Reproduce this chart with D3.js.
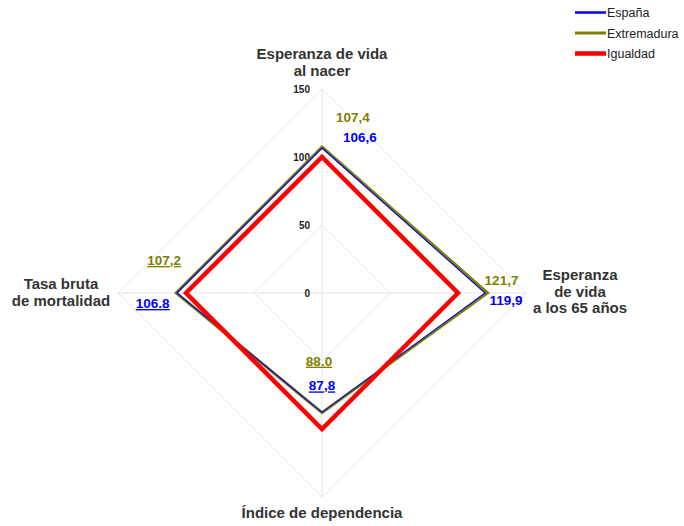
<!DOCTYPE html>
<html><head><meta charset="utf-8">
<script src="https://cdn.jsdelivr.net/npm/d3@7"></script>
<style>body{margin:0;background:#fff}svg{display:block}text{font-family:"Liberation Sans",Arial,sans-serif}</style>
</head><body>
<script>
const categories = ["Esperanza de vida al nacer","Esperanza de vida a los 65 años","Índice de dependencia","Tasa bruta de mortalidad"];
const espana = [106.6, 119.9, 87.8, 106.8];
const extremadura = [107.4, 121.7, 88.0, 107.2];
const igualdad = [100, 100, 100, 100];
const espanaLabels = ["106,6","119,9","87,8","106.8"];
const extremaduraLabels = ["107,4","121,7","88.0","107,2"];
const ticks = [0, 50, 100, 150];

const W = 684, H = 526, cx = 322, cy = 293;
const svg = d3.select("body").append("svg").attr("width", W).attr("height", H);
const r = d3.scaleLinear().domain([0, 150]).range([0, 204]);
const ang = i => i * Math.PI / 2; // 0 = up, clockwise
const pt = (i, v) => [cx + r(v) * Math.sin(ang(i)), cy - r(v) * Math.cos(ang(i))];

const g = svg.append("g");
[50, 100, 150].forEach(t => {
  g.append("path").attr("d", d3.line()(categories.map((c, i) => pt(i, t))) + "Z")
    .attr("fill", "none").attr("stroke", "#e3e3f3").attr("stroke-width", 1);
});
categories.forEach((c, i) => {
  const p = pt(i, 150);
  g.append("line").attr("x1", cx).attr("y1", cy).attr("x2", p[0]).attr("y2", p[1])
    .attr("stroke", "#e3e3f3").attr("stroke-width", 1);
});
ticks.forEach(t => {
  g.append("text").attr("x", cx - 12).attr("y", cy - r(t) + 3.5).attr("text-anchor", "end")
    .attr("font-size", 10).attr("font-weight", "bold").attr("fill", "#222").text(t);
});

const line = d3.line();
function series(vals, color, w) {
  g.append("path").attr("d", line(vals.map((v, i) => pt(i, v))) + "Z")
    .attr("fill", "none").attr("stroke", color).attr("stroke-width", w).attr("stroke-linejoin", "miter");
}
series(extremadura, "#808000", 3);
series(espana, "#0000ff", 1.1);
series(igualdad, "#ff0000", 4.5);

function dl(x, y, txt, color, underline) {
  const t = svg.append("text").attr("x", x).attr("y", y).attr("text-anchor", "middle")
    .attr("font-size", 13.5).attr("font-weight", "bold").attr("fill", color).text(txt);
  if (underline) t.attr("text-decoration", "underline");
}
const e0 = pt(0, extremadura[0]), s0 = pt(0, espana[0]);
dl(e0[0] + 31, e0[1] - 25, extremaduraLabels[0], "#808000", false);
dl(s0[0] + 38, s0[1] - 6, espanaLabels[0], "#0000ff", false);
const e1 = pt(1, extremadura[1]), s1 = pt(1, espana[1]);
dl(e1[0] + 14, e1[1] - 8, extremaduraLabels[1], "#808000", false);
dl(s1[0] + 21, s1[1] + 12, espanaLabels[1], "#0000ff", false);
const e2 = pt(2, extremadura[2]), s2 = pt(2, espana[2]);
dl(e2[0] - 3, e2[1] - 47, extremaduraLabels[2], "#808000", true);
dl(s2[0], s2[1] - 22, espanaLabels[2], "#0000ff", true);
const e3 = pt(3, extremadura[3]), s3 = pt(3, espana[3]);
dl(e3[0] - 12, e3[1] - 28, extremaduraLabels[3], "#808000", true);
dl(s3[0] - 24, s3[1] + 15, espanaLabels[3], "#0000ff", true);

function cl(x, lines, y0, dy) {
  const t = svg.append("text").attr("x", x).attr("y", y0).attr("text-anchor", "middle")
    .attr("font-size", 15).attr("font-weight", "bold").attr("fill", "#333");
  lines.forEach((l, k) => t.append("tspan").attr("x", x).attr("y", y0 + k * dy).text(l));
}
cl(cx, ["Esperanza de vida", "al nacer"], 59, 16.5);
cl(580, ["Esperanza", "de vida", "a los 65 años"], 280, 16.5);
cl(61, ["Tasa bruta", "de mortalidad"], 289, 17);
cl(cx, ["Índice de dependencia"], 518, 17);

const leg = [["España", "#0000ff", 2.5], ["Extremadura", "#808000", 3], ["Igualdad", "#ff0000", 4.5]];
leg.forEach((d, k) => {
  const y = 12.5 + k * 20.5;
  svg.append("line").attr("x1", 575).attr("x2", 606).attr("y1", y).attr("y2", y)
    .attr("stroke", d[1]).attr("stroke-width", d[2]);
  svg.append("text").attr("x", 607).attr("y", y + 4.5).attr("font-size", 12.5).attr("fill", "#222").text(d[0]);
});
</script>
</body></html>
